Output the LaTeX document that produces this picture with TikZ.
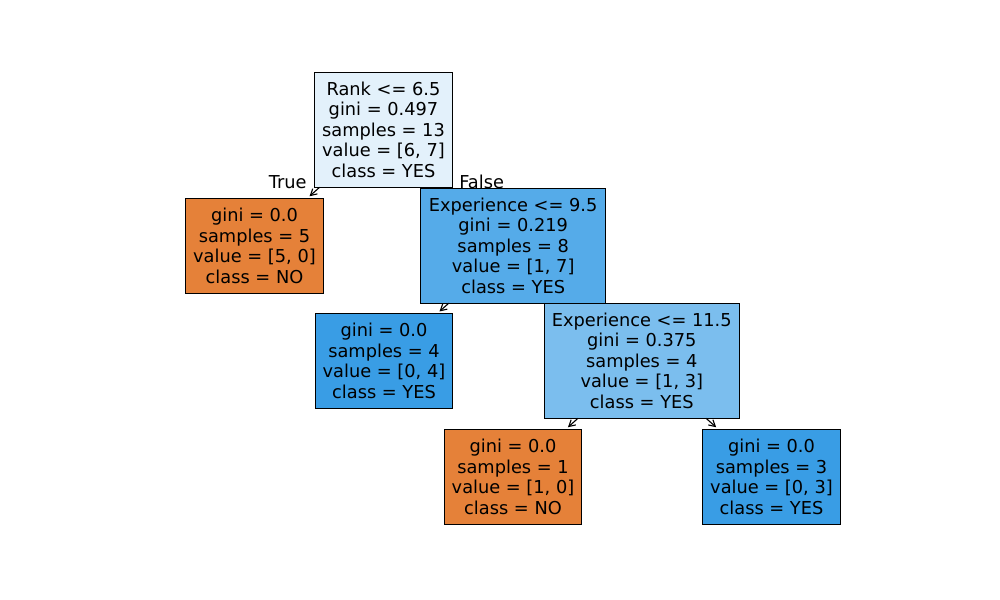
\documentclass[tikz,border=0pt]{standalone}
\usepackage{fontspec}
\setmainfont{DejaVu Sans}
\usetikzlibrary{arrows.meta}
\definecolor{nocol}{RGB}{229,129,57}
\definecolor{yescol}{RGB}{57,157,229}
\definecolor{rootcol}{RGB}{227,241,251}
\definecolor{splitcol}{RGB}{85,171,233}
\definecolor{subcol}{RGB}{123,190,238}
\begin{document}
\begin{tikzpicture}[x=0.72bp, y=-0.72bp,
  main/.style = {draw, line width=1bp, inner sep=0pt, outer sep=0pt, align=center, font=\fontsize{12.8bp}{14.76bp}\selectfont},
  split/.style = {main, minimum height=82.8bp},
  leaf/.style = {main, minimum height=68.4bp},
  edge/.style = {font=\fontsize{12.8bp}{14.76bp}\selectfont, anchor=base, inner sep=0pt}]
\useasboundingbox (0,0) rectangle (1000,600);
\node[split, fill=rootcol, minimum width=99.6bp] (0) at (383.5,129.8) {Rank <= 6.5\\gini = 0.497\\samples = 13\\value = [6, 7]\\class = YES};
\node[leaf, fill=nocol, minimum width=99.6bp] (1) at (254.5,245.8) {gini = 0.0\\samples = 5\\value = [5, 0]\\class = NO};
\node[split, fill=splitcol, minimum width=133.2bp] (2) at (513.2,245.7) {Experience <= 9.5\\gini = 0.219\\samples = 8\\value = [1, 7]\\class = YES};
\node[leaf, fill=yescol, minimum width=98.9bp] (3) at (384,361) {gini = 0.0\\samples = 4\\value = [0, 4]\\class = YES};
\node[split, fill=subcol, minimum width=140.4bp] (4) at (641.8,360.8) {Experience <= 11.5\\gini = 0.375\\samples = 4\\value = [1, 3]\\class = YES};
\node[leaf, fill=nocol, minimum width=98.9bp] (5) at (513,476.8) {gini = 0.0\\samples = 1\\value = [1, 0]\\class = NO};
\node[leaf, fill=yescol, minimum width=99.6bp] (6) at (771.5,476.8) {gini = 0.0\\samples = 3\\value = [0, 3]\\class = YES};
\draw[-{Straight Barb[length=4.5bp, width=5bp]}, line width=0.8bp, shorten >=2.2bp] (0) -- (1);
\draw[-{Straight Barb[length=4.5bp, width=5bp]}, line width=0.8bp, shorten >=2.2bp] (2) -- (3);
\draw[-{Straight Barb[length=4.5bp, width=5bp]}, line width=0.8bp, shorten >=2.2bp] (4) -- (5);
\draw[-{Straight Barb[length=4.5bp, width=5bp]}, line width=0.8bp, shorten >=2.2bp] (4) -- (6);
\node[edge] (true) at (287.7,188.3) {True};
\node[edge] (false) at (481.7,188.3) {False};
\end{tikzpicture}
\end{document}
